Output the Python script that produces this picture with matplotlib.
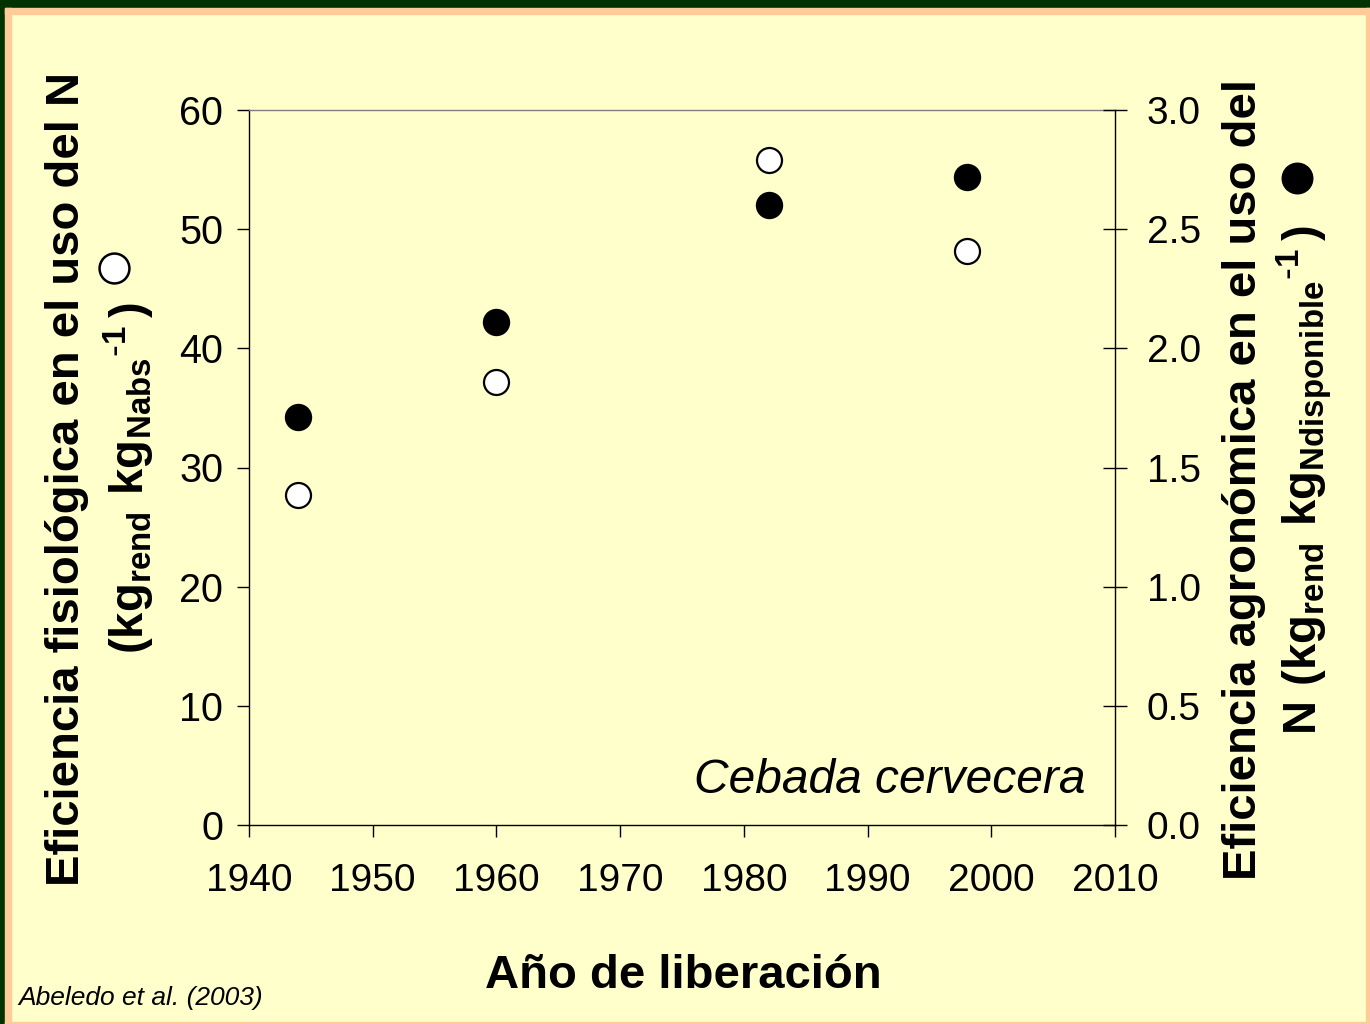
import matplotlib
matplotlib.use("Agg")
import matplotlib.pyplot as plt
from matplotlib.lines import Line2D
from matplotlib.patches import Rectangle
from matplotlib.ticker import FormatStrFormatter

# ---- data ----
years = [1944, 1960, 1982, 1998]
efic_fisiologica = [27.7, 37.2, 55.8, 48.2]     # left axis, open circles
efic_agronomica = [1.71, 2.11, 2.60, 2.72]      # right axis, filled circles
x_ticks = [1940, 1950, 1960, 1970, 1980, 1990, 2000, 2010]
left_ticks = [0, 10, 20, 30, 40, 50, 60]
right_ticks = [0.0, 0.5, 1.0, 1.5, 2.0, 2.5, 3.0]

BG = "#FFFFCC"
plt.rcParams['font.family'] = ['Liberation Sans', 'DejaVu Sans']
plt.rcParams['mathtext.default'] = 'regular'

W, H = 1370, 1024
fig = plt.figure(figsize=(W / 100, H / 100), dpi=100, facecolor=BG)

def fx(px):
    return px / W

def fy(py):
    return 1 - py / H

# frame
fig.patches.append(Rectangle((0, fy(8)), 1, 8 / H, transform=fig.transFigure, color="#003300", zorder=0))
fig.patches.append(Rectangle((0, 0), fx(5), 1, transform=fig.transFigure, color="#003300", zorder=0))
fig.patches.append(Rectangle((fx(5), fy(14)), 1, 6 / H, transform=fig.transFigure, color="#FFCC99", zorder=0))
fig.patches.append(Rectangle((fx(5), 0), 6 / W, fy(8), transform=fig.transFigure, color="#FFCC99", zorder=0))
fig.patches.append(Rectangle((fx(1366), 0), 4 / W, fy(8), transform=fig.transFigure, color="#FFCC99", zorder=0))
fig.patches.append(Rectangle((fx(5), 0), 1, 2.5 / H, transform=fig.transFigure, color="#FFCC99", zorder=0))

ax = fig.add_axes([fx(249), fy(825), fx(1115) - fx(249), fy(110) - fy(825)])
ax.set_facecolor(BG)
ax2 = ax.twinx()
ax2.set_facecolor('none')

ax.plot(years, efic_fisiologica, linestyle='none', marker='o', markersize=18,
        markerfacecolor='white', markeredgecolor='black', markeredgewidth=1.6, clip_on=False, zorder=3)
ax2.plot(years, efic_agronomica, linestyle='none', marker='o', markersize=18.5,
         markerfacecolor='black', markeredgecolor='black', markeredgewidth=1.2, clip_on=False, zorder=3)

ax.set_xlim(1940, 2010)
ax.set_ylim(0, 60)
ax2.set_ylim(0, 3)
ax.set_xticks(x_ticks)
ax.set_yticks(left_ticks)
ax2.set_yticks(right_ticks)
ax2.yaxis.set_major_formatter(FormatStrFormatter('%.1f'))

for a in (ax, ax2):
    for s in a.spines.values():
        s.set_linewidth(1.0)
        s.set_color('black')
    a.spines['top'].set_color('#7f7f7f')
ax.spines['right'].set_visible(False)
ax2.spines['left'].set_visible(False)
ax2.spines['bottom'].set_visible(False)
ax2.spines['top'].set_visible(False)

ax.tick_params(axis='x', direction='out', length=8.6, width=1.0, labelsize=28, pad=19)
ax.tick_params(axis='y', direction='out', length=8.6, width=1.0, labelsize=28.5, pad=10)
ax2.tick_params(axis='y', direction='inout', length=17.5, width=1.0, labelsize=28, pad=14)

ax.text(0.9654, 0.045, 'Cebada cervecera', transform=ax.transAxes, ha='right', va='baseline',
        fontsize=34.5, style='italic')

fig.text(fx(683), fy(988), 'Año de liberación', ha='center', va='baseline', fontsize=34, fontweight='bold')
fig.text(fx(18), fy(1005), 'Abeledo et al. (2003)', ha='left', va='baseline', fontsize=19, style='italic')

# left y label
fig.text(fx(67), fy(479), 'Eficiencia fisiológica en el uso del N', rotation=90,
         ha='center', va='center', fontsize=34, fontweight='bold')
fig.text(fx(129), fy(478), r'$(kg_{rend}\ kg_{Nabs}{}^{\text{-}1}\,)$', rotation=90,
         ha='center', va='center', fontsize=34, fontweight='bold')
fig.add_artist(Line2D([fx(114)], [fy(268)], transform=fig.transFigure, marker='o', markersize=21.5,
                      markerfacecolor='white', markeredgecolor='black', markeredgewidth=1.8))

# right y label
fig.text(fx(1244), fy(480), 'Eficiencia agronómica en el uso del', rotation=90,
         ha='center', va='center', fontsize=34, fontweight='bold')
fig.text(fx(1304), fy(480), r'$N\ (kg_{rend}\ kg_{Ndisponible}{}^{\text{-}1}\,)$', rotation=90,
         ha='center', va='center', fontsize=34, fontweight='bold')
fig.add_artist(Line2D([fx(1297)], [fy(178)], transform=fig.transFigure, marker='o', markersize=22,
                      markerfacecolor='black', markeredgecolor='black', markeredgewidth=1.0))

fig.savefig('out.png', dpi=100, facecolor=BG)
